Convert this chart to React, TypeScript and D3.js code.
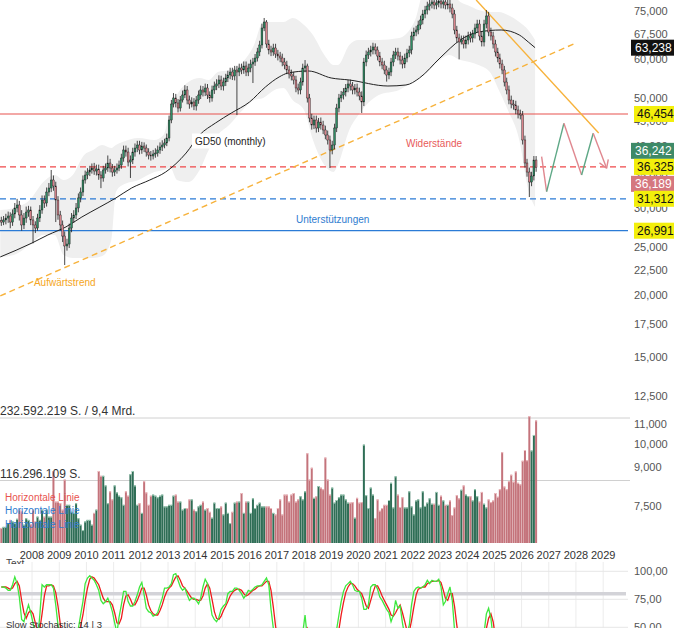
import React, { useRef, useEffect } from "react";
import * as d3 from "d3";

// Monthly bars, the first one is November 2006
const firstBar = { year: 2006, month: 10 };
const firstOpen = 28300;

const closes = [
  28100, 28370,
  28630, 28900, 28100, 29170, 30000, 30420, 29040, 27720, 28630, 29440, 29720, 28370,
  27720, 27330, 28630, 29720, 31130, 30700, 32310, 32920, 34170, 33230, 31130, 29040,
  27720, 26330, 25140, 25370, 27330, 28630, 29040, 30000, 31430, 32310, 34170, 34970,
  35460, 35800, 36130, 35630, 35960, 34970, 34490, 35800, 36130, 36980, 36130, 35460,
  35800, 36130, 36640, 37850, 39290, 38920, 37150, 37500, 38920, 39650, 40210, 39290,
  40020, 39650, 38920, 38380, 38210, 38560, 38740, 39290, 39840, 40210, 40590, 41540,
  45170, 48660, 50040, 48890, 47760, 49570, 50740, 51940, 49570, 48660, 49120, 48210,
  49570, 50740, 51940, 51450, 52420, 50740, 50040, 51940, 52910, 53410, 54410, 52910,
  53900, 54920, 55690, 56470, 55430, 57000, 56470, 57530, 57000, 58070, 56470, 57530,
  58610, 59160, 60270, 61980, 64030, 69300, 71260, 64330, 62560, 61980, 63140, 61400,
  60830, 60270, 59160, 58340, 57000, 55950, 55430, 54410, 52420, 51940, 53900, 57530,
  58070, 50040, 45590, 44130, 45170, 43520, 44750, 44130, 43120, 42130, 41160, 39290,
  40210, 43520, 47760, 50040, 50740, 51450, 52420, 53410, 52910, 51940, 52420, 51450,
  50510, 49120, 59160, 61120, 61980, 62560, 63440, 62560, 60830, 59160, 58340, 57000,
  55690, 56470, 59160, 61120, 61980, 60830, 59710, 58610, 60270, 61690, 62560, 66770,
  68020, 68660, 70270, 71920, 73960, 75350, 76760, 77480, 78210, 77120, 77840, 78570,
  77480, 78210, 77120, 77480, 76050, 73960, 68660, 66150, 64930, 65540, 64330, 65540,
  66770, 66150, 67390, 69300, 70600, 66770, 64930, 70600, 73280, 68020, 66770, 64330,
  61980, 60270, 58610, 57000, 53900, 51940, 49570, 48660, 48440, 47320, 46450, 46230,
  41160, 36980, 35460, 33850, 34810, 37500, 36190,
];

const highs = [
  28800, 28900,
  29200, 29500, 29400, 29800, 30700, 31300, 31000, 29700, 29300, 30200, 30300, 30200,
  28900, 28200, 29200, 30400, 31800, 31800, 33000, 33700, 35800, 34900, 33900, 31700,
  29600, 28300, 26900, 26000, 27900, 29300, 29700, 30700, 32100, 33000, 34900, 35700,
  36100, 36500, 36900, 37000, 36700, 36700, 35600, 36500, 36900, 38300, 37700, 36800,
  36500, 36900, 37400, 38600, 40100, 40100, 39700, 38300, 39700, 40500, 41000, 41000,
  40800, 40700, 40300, 39600, 39100, 39300, 39600, 40100, 40700, 41100, 41400, 42400,
  46100, 49600, 51200, 51000, 49800, 50500, 51800, 53100, 52900, 50600, 50200, 50000,
  50500, 51800, 53000, 52900, 53500, 53400, 51600, 53000, 54000, 54600, 55600, 55500,
  55000, 56000, 56800, 57600, 57600, 58100, 58100, 58700, 58700, 59300, 59300, 58700,
  59800, 60300, 61400, 63200, 65300, 70700, 72600, 71900, 65600, 63800, 64400, 64400,
  62600, 62000, 61500, 60300, 59500, 58100, 57100, 56500, 55500, 53500, 55000, 58700,
  59700, 58700, 51000, 46500, 46100, 46100, 45600, 45700, 45000, 44000, 43000, 42000,
  41000, 44400, 48700, 51000, 51700, 52400, 53400, 54400, 54500, 53900, 53400, 53500,
  52500, 51600, 60300, 62400, 63200, 63800, 64700, 64500, 63600, 62000, 60300, 59500,
  58100, 57600, 60300, 62300, 63200, 63200, 62000, 60900, 61500, 62900, 63800, 68100,
  69400, 70000, 71700, 73400, 75400, 76800, 78300, 79000, 79800, 79800, 79400, 80100,
  80100, 79800, 79800, 79000, 79000, 77600, 75400, 70000, 67500, 66900, 66900, 66900,
  68100, 68100, 68700, 70700, 72000, 72000, 68100, 72000, 75350, 74700, 69400, 68100,
  65600, 63200, 61500, 59800, 58100, 55000, 53000, 50600, 49600, 49400, 48300, 47400,
  47100, 42000, 37700, 36200, 35500, 38200, 38200,
];

const lows = [
  27600, 27700,
  27800, 28000, 27300, 27600, 28600, 29400, 28300, 27000, 27200, 28000, 28800, 27700,
  25450, 26700, 27000, 28100, 29200, 30000, 30200, 31700, 32300, 32500, 28100, 28400,
  27000, 25600, 23010, 24600, 24900, 26800, 28000, 28500, 29400, 30800, 31700, 33600,
  34300, 34800, 35200, 35000, 34900, 34200, 32900, 33900, 35200, 35500, 35400, 34700,
  34800, 35200, 35600, 36000, 37200, 38100, 36400, 34490, 36800, 38100, 38900, 38500,
  38600, 38900, 38100, 37600, 37400, 37600, 37900, 38100, 38600, 39100, 39600, 40000,
  40900, 44500, 47900, 47900, 46800, 47000, 49000, 50000, 48600, 47600, 47900, 47300,
  47200, 48700, 49800, 50400, 50500, 49800, 49000, 49200, 51000, 51900, 52400, 51900,
  51800, 52900, 53900, 54600, 54400, 54300, 46230, 55400, 55900, 56000, 55400, 55400,
  56400, 53650, 58100, 59300, 60800, 63000, 68300, 63200, 61300, 60800, 60900, 60300,
  59600, 59100, 58000, 57200, 55900, 54800, 54300, 53300, 51400, 50900, 50900, 53000,
  56400, 49000, 44700, 43200, 43300, 42600, 42700, 43200, 42300, 41300, 40300, 36130,
  38500, 39400, 42700, 46800, 49100, 49700, 50400, 51400, 51800, 50900, 50900, 50400,
  49500, 46660, 48200, 58000, 60000, 60700, 61300, 61300, 59600, 58000, 57200, 55900,
  54000, 54600, 55400, 58000, 60000, 59600, 58500, 57400, 57500, 59100, 60500, 61300,
  65400, 66700, 67300, 68900, 70500, 72500, 73800, 75200, 75900, 75600, 75600, 76300,
  75900, 75900, 75600, 75600, 74500, 72500, 67300, 64800, 59900, 64200, 63000, 63000,
  64200, 64800, 64800, 66000, 67900, 65400, 63600, 63600, 69200, 66700, 65400, 63000,
  60700, 59100, 57400, 55900, 52800, 50900, 48600, 47700, 47400, 46400, 45500, 45300,
  40300, 36200, 34700, 31570, 33200, 34100, 35500,
];

// Volume in million shares
const volumes = [
  28, 30,
  30, 37, 43, 40, 37, 45, 62, 59, 34, 46, 43, 35,
  62, 40, 49, 43, 62, 49, 62, 49, 49, 134, 77, 77,
  74, 62, 118, 71, 71, 58, 56, 74, 46, 34, 24, 40,
  43, 43, 34, 56, 62, 134, 125, 125, 107, 74, 96, 81,
  107, 94, 88, 85, 71, 96, 88, 128, 134, 107, 71, 74,
  56, 115, 94, 71, 88, 90, 88, 85, 88, 90, 68, 68,
  71, 71, 88, 90, 77, 77, 62, 65, 65, 81, 81, 62,
  59, 68, 71, 77, 62, 65, 58, 47, 75, 65, 65, 68,
  53, 75, 56, 37, 58, 75, 77, 77, 93, 56, 77, 77,
  56, 83, 65, 71, 75, 68, 68, 68, 68, 65, 56, 53,
  65, 81, 53, 90, 90, 77, 90, 93, 77, 81, 87, 81,
  96, 167, 118, 140, 84, 87, 106, 103, 100, 159, 118, 90,
  103, 75, 80, 85, 90, 90, 81, 75, 75, 76, 47, 84,
  75, 76, 183, 89, 65, 103, 90, 46, 81, 60, 65, 71,
  71, 80, 112, 66, 124, 90, 67, 85, 66, 66, 96, 68,
  53, 79, 81, 66, 96, 69, 75, 83, 73, 73, 95, 71,
  88, 79, 71, 71, 79, 52, 66, 89, 83, 99, 107, 90,
  87, 87, 79, 100, 87, 77, 95, 73, 66, 81, 76, 79,
  93, 86, 100, 169, 105, 100, 115, 127, 114, 133, 112, 109,
  153, 173, 154, 236, 172, 201, 228,
];

// Slow Stochastic 14 | 3
const stochK = [
  86, 86,
  85, 83, 83, 88, 95, 89, 77, 57, 55, 63, 70, 63,
  54, 45, 38, 61, 88, 86, 88, 88, 88, 85, 70, 52,
  38, 25, 12, 14, 25, 35, 40, 44, 49, 61, 73, 89,
  94, 96, 94, 92, 88, 83, 74, 71, 73, 76, 71, 64,
  54, 45, 59, 70, 82, 82, 73, 69, 69, 73, 79, 86,
  90, 79, 67, 64, 63, 60, 61, 63, 70, 76, 85, 85,
  86, 89, 97, 98, 92, 86, 83, 85, 79, 74, 76, 76,
  74, 71, 76, 86, 93, 89, 74, 61, 57, 55, 59, 66,
  69, 71, 80, 82, 82, 85, 85, 83, 80, 76, 79, 83,
  82, 84, 86, 87, 87, 88, 91, 94, 88, 66, 49, 38,
  30, 25, 22, 20, 18, 15, 12, 10, 12, 20, 30, 45,
  61, 40, 20, 15, 12, 15, 18, 14, 10, 8, 6, 10,
  20, 35, 48, 61, 73, 82, 87, 89, 91, 88, 83, 82,
  82, 76, 66, 66, 70, 86, 88, 88, 84, 77, 74, 70,
  66, 63, 55, 61, 74, 67, 69, 54, 42, 45, 52, 70,
  82, 85, 86, 85, 86, 88, 92, 89, 92, 91, 91, 93,
  86, 70, 73, 80, 86, 74, 48, 35, 25, 20, 18, 22,
  28, 32, 35, 38, 40, 42, 40, 45, 62, 67, 58, 40,
  25, 15, 10, 8, 6, 5, 4, 4, 5, 6, 5, 4,
  3, 2, 3, 5, 10, 18, 22,
];

const stochD = [
  86, 86,
  86, 85, 84, 85, 89, 91, 87, 74, 63, 58, 63, 65,
  62, 54, 46, 48, 62, 78, 87, 87, 88, 87, 81, 69,
  53, 38, 25, 17, 17, 25, 33, 40, 44, 51, 61, 74,
  85, 93, 95, 94, 91, 88, 82, 76, 73, 73, 73, 70,
  63, 54, 53, 58, 70, 78, 79, 75, 70, 70, 74, 79,
  85, 85, 79, 70, 65, 62, 61, 61, 65, 70, 77, 82,
  85, 87, 91, 95, 96, 92, 87, 85, 82, 79, 76, 75,
  75, 74, 74, 78, 85, 89, 85, 75, 64, 58, 57, 60,
  65, 69, 73, 78, 81, 83, 84, 84, 83, 80, 78, 79,
  81, 83, 84, 86, 87, 87, 89, 91, 91, 83, 68, 51,
  39, 31, 26, 22, 20, 18, 15, 12, 11, 14, 21, 32,
  45, 49, 40, 25, 16, 14, 15, 16, 14, 11, 8, 8,
  12, 22, 34, 48, 61, 72, 81, 86, 89, 89, 87, 84,
  82, 80, 75, 69, 67, 74, 81, 87, 87, 83, 78, 74,
  70, 66, 61, 60, 63, 67, 70, 63, 55, 47, 46, 56,
  68, 79, 84, 85, 86, 86, 89, 90, 91, 91, 91, 92,
  90, 83, 76, 74, 80, 80, 69, 52, 36, 27, 21, 20,
  23, 27, 32, 35, 38, 40, 41, 42, 49, 58, 62, 55,
  41, 27, 17, 11, 8, 6, 5, 4, 4, 5, 5, 5,
  4, 3, 3, 3, 6, 11, 17,
];

// GD50 (monthly), read at a few dates
const gd50: [string, number][] = [
  ["2006-11", 23890], ["2008-01", 25490], ["2008-08", 26460], ["2009-04", 27470],
  ["2009-11", 28770], ["2010-07", 30140], ["2011-02", 31430], ["2011-09", 32930],
  ["2012-05", 34170], ["2012-12", 35470], ["2013-09", 38740], ["2014-03", 42130],
  ["2014-10", 44550], ["2015-05", 46660], ["2016-01", 49120], ["2016-08", 52670],
  ["2017-02", 55180], ["2017-06", 56210], ["2018-03", 56740], ["2019-01", 54920],
  ["2019-09", 54410], ["2021-02", 52910], ["2021-10", 53160], ["2022-04", 54920],
  ["2023-01", 60270], ["2023-10", 65540], ["2024-06", 68020], ["2025-04", 68660],
  ["2025-12", 67090], ["2026-04", 64930], ["2026-07", 63238],
];

// Grey envelope around the price: [month, upper, lower]
const envelope: [string, number, number][] = [
  ["2006-11", 29720, 23880], ["2007-05", 30000, 24110], ["2007-12", 31130, 25250],
  ["2008-06", 33850, 26460], ["2008-11", 34970, 26460], ["2009-03", 34170, 24110],
  ["2009-07", 34970, 23770], ["2009-12", 38380, 23770], ["2010-04", 39290, 23770],
  ["2010-08", 40210, 23990], ["2010-12", 39650, 25850], ["2011-02", 40210, 32310],
  ["2011-05", 40780, 33380], ["2011-12", 41540, 34170], ["2012-07", 41160, 35460],
  ["2012-11", 42130, 35800], ["2013-02", 47320, 36130], ["2013-05", 50740, 34170],
  ["2013-10", 53900, 33850], ["2014-03", 54920, 35800], ["2014-07", 54410, 39290],
  ["2014-11", 56470, 42130], ["2015-04", 57000, 44130], ["2015-10", 59160, 47320],
  ["2016-03", 64030, 49570], ["2016-07", 71260, 50040], ["2016-12", 71260, 51940],
  ["2017-04", 71260, 52420], ["2017-08", 72600, 49570], ["2018-01", 70270, 47320],
  ["2018-05", 67080, 41160], ["2018-10", 61120, 36640], ["2019-02", 58340, 35460],
  ["2019-04", 58340, 36640], ["2019-09", 64030, 43120], ["2020-01", 65540, 46230],
  ["2020-10", 65540, 50740], ["2021-07", 66150, 51940], ["2022-02", 71920, 54410],
  ["2022-06", 82000, 55690], ["2023-01", 82000, 59710], ["2023-05", 82000, 61120],
  ["2023-10", 78210, 59710], ["2024-02", 76760, 59160], ["2024-06", 75350, 58340],
  ["2024-11", 74650, 56470], ["2025-03", 74650, 51940], ["2025-07", 73620, 47320],
  ["2025-12", 71260, 41160], ["2026-04", 68660, 32620], ["2026-07", 65540, 30140],
];

const levels = [
  { value: 46454, color: "#e8534f", dash: "" },
  { value: 36325, color: "#f0484a", dash: "6,4" },
  { value: 31312, color: "#2b7bd6", dash: "6,4" },
  { value: 26991, color: "#2b7bd6", dash: "" },
];

const upTrend: [string, number][] = [["2006-11-01", 19930], ["2027-12-01", 64330]];
const downTrend: [string, number][] = [["2024-05-01", 78940], ["2028-11-01", 42520]];
// drawn scenario after the last bar
const scenario: [string, number][] = [
  ["2026-09-27", 38080], ["2026-12-03", 32360], ["2027-07-23", 44480],
  ["2028-03-17", 34970], ["2028-08-20", 42460], ["2029-02-16", 36080],
];

const notes = [
  { text: "GD50 (monthly)", date: "2013-12-29", value: 40966, color: "#222222", boxed: true },
  { text: "Widerstände", date: "2021-10-01", value: 40400, color: "#e85a5a", boxed: false },
  { text: "Unterstützungen", date: "2017-09-15", value: 28500, color: "#2f7ccf", boxed: false },
  { text: "Aufwärtstrend", date: "2008-01-27", value: 21260, color: "#f5a623", boxed: false },
];

const priceTicks = [75000, 67500, 60000, 50000, 45000, 40000, 35000, 30000, 25000, 22500,
  20000, 17500, 15000, 12500, 11000, 10000, 9000, 7500];
const years = [2008, 2009, 2010, 2011, 2012, 2013, 2014, 2015, 2016, 2017, 2018, 2019,
  2020, 2021, 2022, 2023, 2024, 2025, 2026, 2027, 2028, 2029];
const stochTicks = [100, 75, 50];
const volumeMarks = [
  { value: 232.592219, label: "232.592.219 S. / 9,4 Mrd." },
  { value: 116.296109, label: "116.296.109 S." },
];
const legendItems = [
  { label: "Horizontale Linie", color: "#e8534f" },
  { label: "Horizontale Linie", color: "#2f7ccf" },
  { label: "Horizontale Linie", color: "#2f7ccf" },
];
const priceTags = [
  { value: 63238, bg: "#111111", fg: "#ffffff", anchor: 0, nudge: 0 },
  { value: 46454, bg: "#f3ef0b", fg: "#111111", anchor: 0, nudge: 0 },
  { value: 36242, bg: "#3e8a68", fg: "#ffffff", anchor: 36325, nudge: -16 },
  { value: 36325, bg: "#f3ef0b", fg: "#111111", anchor: 0, nudge: 0 },
  { value: 36189, bg: "#d5777f", fg: "#ffffff", anchor: 36325, nudge: 17 },
  { value: 31312, bg: "#f3ef0b", fg: "#111111", anchor: 0, nudge: 0 },
  { value: 26991, bg: "#f3ef0b", fg: "#111111", anchor: 0, nudge: 0 },
];

const FONT = "'Liberation Sans', Arial, sans-serif";
const UP = "#2e8a62";
const DOWN = "#d8838b";

export default function App() {
  const svgRef = useRef<SVGSVGElement>(null);

  useEffect(() => {
    document.body.style.margin = "0";
    if (!svgRef.current) return;
    const svg = d3.select(svgRef.current);
    svg.selectAll("*").remove();

    const width = 674;
    const height = 628;
    const plotRight = 628;

    const parseYM = d3.timeParse("%Y-%m");
    const parseYMD = d3.timeParse("%Y-%m-%d");

    const x = d3.scaleTime()
      .domain([new Date(2008, 0, 1), new Date(2029, 0, 1)])
      .range([32, 603.2]);
    const y = d3.scaleLog().domain([75000, 7500]).range([11, 506]);
    const yVol = d3.scaleLinear().domain([0, 232.592219]).range([543, 418]);
    const yStoch = d3.scaleLinear().domain([100, 50]).range([571.3, 627.3]);

    const bars = closes.map((c, i) => ({
      date: new Date(firstBar.year, firstBar.month + i, 15),
      open: i === 0 ? firstOpen : closes[i - 1],
      close: c,
      high: highs[i],
      low: lows[i],
      vol: volumes[i],
      k: stochK[i],
      d: stochD[i],
    }));

    svg.append("rect").attr("width", width).attr("height", height).attr("fill", "#ffffff");

    const defs = svg.append("defs");
    defs.append("clipPath").attr("id", "clip-main")
      .append("rect").attr("x", 0).attr("y", 0).attr("width", plotRight).attr("height", 410);
    defs.append("clipPath").attr("id", "clip-stoch")
      .append("rect").attr("x", 0).attr("y", 562).attr("width", plotRight).attr("height", 66);
    defs.append("clipPath").attr("id", "clip-text")
      .append("rect").attr("x", 0).attr("y", 540).attr("width", 60).attr("height", 24);

    // ---- price pane
    const main = svg.append("g").attr("clip-path", "url(#clip-main)");

    const band = d3.area<[string, number, number]>()
      .x(d => x(parseYM(d[0]) as Date))
      .y0(d => y(d[2]))
      .y1(d => y(d[1]))
      .curve(d3.curveMonotoneX);
    main.append("path").datum(envelope).attr("fill", "#efefef").attr("d", band);

    levels.forEach(l => {
      main.append("line")
        .attr("x1", 0).attr("x2", plotRight)
        .attr("y1", y(l.value)).attr("y2", y(l.value))
        .attr("stroke", l.color).attr("stroke-width", 1.2)
        .attr("stroke-dasharray", l.dash);
    });

    const trend = d3.line<[string, number]>()
      .x(d => x(parseYMD(d[0]) as Date))
      .y(d => y(d[1]));
    main.append("path").datum(upTrend)
      .attr("fill", "none").attr("stroke", "#f7b23b").attr("stroke-width", 1.4)
      .attr("stroke-dasharray", "6,4").attr("d", trend);
    main.append("path").datum(downTrend)
      .attr("fill", "none").attr("stroke", "#f7b23b").attr("stroke-width", 1.4)
      .attr("d", trend);

    const maLine = d3.line<[string, number]>()
      .x(d => x(parseYM(d[0]) as Date))
      .y(d => y(d[1]))
      .curve(d3.curveMonotoneX);
    main.append("path").datum(gd50)
      .attr("fill", "none").attr("stroke", "#222").attr("stroke-width", 1).attr("d", maLine);

    // candles
    const candles = main.append("g");
    bars.forEach(b => {
      const cx = x(b.date);
      candles.append("line")
        .attr("x1", cx).attr("x2", cx)
        .attr("y1", y(b.high)).attr("y2", y(b.low))
        .attr("stroke", "#1a1a1a").attr("stroke-width", 0.8);
      const top = y(Math.max(b.open, b.close));
      const bottom = y(Math.min(b.open, b.close));
      candles.append("rect")
        .attr("x", cx - 0.9).attr("width", 1.8)
        .attr("y", top).attr("height", Math.max(0.8, bottom - top))
        .attr("fill", b.close >= b.open ? UP : DOWN)
        .attr("stroke", "#1a1a1a").attr("stroke-width", 0.4);
    });

    // scenario zigzag
    const pts = scenario.map(d => [x(parseYMD(d[0]) as Date), y(d[1])] as [number, number]);
    for (let i = 1; i < pts.length; i++) {
      const up = pts[i][1] < pts[i - 1][1];
      main.append("line")
        .attr("x1", pts[i - 1][0]).attr("y1", pts[i - 1][1])
        .attr("x2", pts[i][0]).attr("y2", pts[i][1])
        .attr("stroke", up ? "#5ea886" : "#e0878f").attr("stroke-width", 1.4);
    }
    const [pa, pb] = [pts[pts.length - 2], pts[pts.length - 1]];
    const ang = Math.atan2(pb[1] - pa[1], pb[0] - pa[0]);
    [-0.55, 0.55].forEach(off => {
      main.append("line")
        .attr("x1", pb[0]).attr("y1", pb[1])
        .attr("x2", pb[0] - 9 * Math.cos(ang + off)).attr("y2", pb[1] - 9 * Math.sin(ang + off))
        .attr("stroke", "#e0878f").attr("stroke-width", 1.4);
    });

    notes.forEach(n => {
      const t = main.append("text")
        .attr("x", x(parseYMD(n.date) as Date)).attr("y", y(n.value))
        .attr("dominant-baseline", "central")
        .style("font-family", FONT).style("font-size", "10px")
        .style("fill", n.color).text(n.text);
      if (n.boxed) {
        const bb = (t.node() as SVGTextElement).getBBox();
        main.insert("rect", () => t.node())
          .attr("x", bb.x - 3).attr("y", bb.y - 2)
          .attr("width", bb.width + 6).attr("height", bb.height + 4)
          .attr("fill", "#ffffff");
      }
    });

    // ---- volume pane
    volumeMarks.forEach(v => {
      svg.append("line")
        .attr("x1", 0).attr("x2", 630)
        .attr("y1", yVol(v.value)).attr("y2", yVol(v.value))
        .attr("stroke", "#d0d0d0").attr("stroke-width", 1);
    });
    const vols = svg.append("g");
    bars.forEach(b => {
      const cx = x(b.date);
      const up = b.close >= b.open;
      vols.append("rect")
        .attr("x", cx - 1).attr("width", 2)
        .attr("y", yVol(b.vol)).attr("height", yVol(0) - yVol(b.vol))
        .attr("fill", up ? "#2f6e56" : "#c4737b");
      vols.append("line")
        .attr("x1", cx - 1).attr("x2", cx + 1)
        .attr("y1", yVol(b.vol) + 0.5).attr("y2", yVol(b.vol) + 0.5)
        .attr("stroke", up ? "#9fd0b8" : "#efbcc0").attr("stroke-width", 1);
    });
    volumeMarks.forEach(v => {
      svg.append("text")
        .attr("x", 0).attr("y", yVol(v.value) - 3)
        .style("font-family", FONT).style("font-size", "12px").style("fill", "#333")
        .text(v.label);
    });
    legendItems.forEach((item, i) => {
      svg.append("text")
        .attr("x", 5).attr("y", 497 + i * 13.5)
        .attr("dominant-baseline", "central")
        .style("font-family", FONT).style("font-size", "10px")
        .style("fill", item.color).text(item.label);
    });

    // ---- right price axis
    const fmt = d3.format(",");
    priceTicks.forEach(p => {
      svg.append("text")
        .attr("x", 634).attr("y", y(p))
        .attr("dominant-baseline", "central")
        .style("font-family", FONT).style("font-size", "11px").style("fill", "#555")
        .text(fmt(p));
    });
    priceTags.forEach(t => {
      const cy = t.anchor ? y(t.anchor) + t.nudge : y(t.value);
      const yellow = t.bg === "#f3ef0b";
      svg.append("rect")
        .attr("x", yellow ? 634 : 631).attr("y", cy - 8)
        .attr("width", 44).attr("height", 16).attr("fill", t.bg);
      svg.append("text")
        .attr("x", yellow ? 637 : 635).attr("y", cy + 0.5)
        .attr("dominant-baseline", "central")
        .style("font-family", FONT).style("font-size", "12px").style("fill", t.fg)
        .text(fmt(t.value));
    });

    // ---- time axis
    years.forEach(yr => {
      svg.append("text")
        .attr("x", x(new Date(yr, 0, 1))).attr("y", 555)
        .attr("text-anchor", "middle").attr("dominant-baseline", "central")
        .style("font-family", FONT).style("font-size", "11px").style("fill", "#333")
        .text(yr);
    });
    svg.append("text")
      .attr("x", 6).attr("y", 567)
      .attr("clip-path", "url(#clip-text)")
      .style("font-family", FONT).style("font-size", "10px").style("fill", "#444")
      .text("Text");

    // ---- stochastic pane
    const st = svg.append("g").attr("clip-path", "url(#clip-stoch)");
    years.forEach(yr => {
      st.append("line")
        .attr("x1", x(new Date(yr, 0, 1))).attr("x2", x(new Date(yr, 0, 1)))
        .attr("y1", 562).attr("y2", 628)
        .attr("stroke", "#ececec").attr("stroke-width", 1);
    });
    stochTicks.forEach(v => {
      st.append("line")
        .attr("x1", 0).attr("x2", plotRight)
        .attr("y1", yStoch(v)).attr("y2", yStoch(v))
        .attr("stroke", "#e6e6e6").attr("stroke-width", 1);
    });
    st.append("line")
      .attr("x1", 0).attr("x2", 626)
      .attr("y1", yStoch(80)).attr("y2", yStoch(80))
      .attr("stroke", "#d3d3d8").attr("stroke-width", 3.5);

    const dLine = d3.line<typeof bars[number]>().x(b => x(b.date)).y(b => yStoch(b.d));
    const kLine = d3.line<typeof bars[number]>().x(b => x(b.date)).y(b => yStoch(b.k));
    st.append("path").datum(bars)
      .attr("fill", "none").attr("stroke", "#ee1c1c").attr("stroke-width", 1.3).attr("d", dLine);
    st.append("path").datum(bars)
      .attr("fill", "none").attr("stroke", "#3ee83e").attr("stroke-width", 1.3).attr("d", kLine);

    stochTicks.forEach(v => {
      svg.append("text")
        .attr("x", 634).attr("y", yStoch(v))
        .attr("dominant-baseline", "central")
        .style("font-family", FONT).style("font-size", "11px").style("fill", "#555")
        .text(d3.format(".2f")(v).replace(".", ","));
    });
    svg.append("text")
      .attr("x", 6).attr("y", 624)
      .attr("dominant-baseline", "central")
      .style("font-family", FONT).style("font-size", "9.5px").style("fill", "#333")
      .text("Slow Stochastic: 14 | 3");
  }, []);

  return (
    <div style={{ width: 674, height: 628 }}>
      <svg ref={svgRef} width={674} height={628} style={{ display: "block" }} />
    </div>
  );
}
